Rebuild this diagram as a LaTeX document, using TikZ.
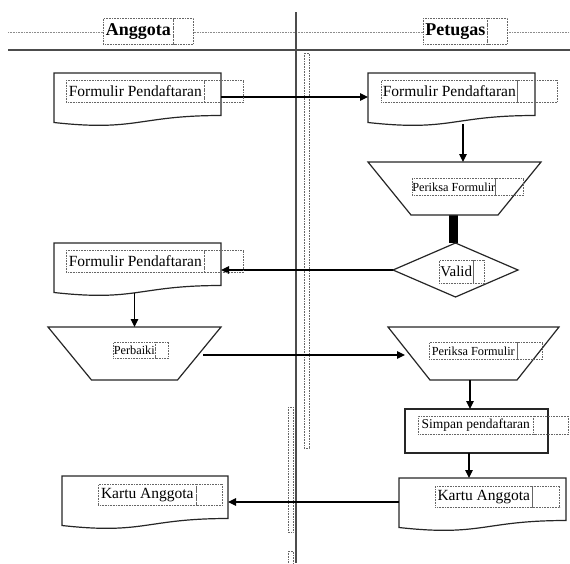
\documentclass[tikz,border=0pt]{standalone}
\usepackage{fontspec}
\setmainfont{Liberation Serif}
\usetikzlibrary{arrows.meta,calc}

\tikzset{
  shapeline/.style={draw=black!85, line width=1.2pt, fill=white},
  hold/.style={inner sep=0pt, outer sep=0pt, draw=none},
  lbl/.style={draw=black!60, densely dotted, line width=0.6pt, inner sep=0pt, text=black},
  frame/.style={draw=black!60, densely dotted, line width=0.6pt},
  headtext/.style={font=\fontsize{18}{20}\selectfont\bfseries, fill=white},
  bigtext/.style={font=\fontsize{15.5}{17}\selectfont},
  validtext/.style={font=\fontsize{15}{17}\selectfont},
  smalltext/.style={font=\fontsize{12.3}{14}\selectfont},
  midtext/.style={font=\fontsize{13.5}{15}\selectfont},
  flow/.style={draw=black, line width=1.2pt, -{Triangle[length=8pt,width=7.5pt]}},
  lane/.style={draw=black!70, line width=1.5pt},
}

% document symbol with a wavy lower edge, drawn over a placeholder node
\newcommand\docoutline[1]{%
  \draw[shapeline] (#1.north west) -- (#1.north east)
    -- ($(#1.north east)!0.802!(#1.south east)$)
    .. controls ($(#1.north)!0.802!(#1.south)$) and ($(#1.north)!1.1075!(#1.south)$)
    .. ($(#1.north west)!0.934!(#1.south west)$) -- cycle;}
% manual-operation trapezoid, wide side on top
\newcommand\trapoutline[2]{%
  \draw[shapeline] (#1.north west) -- (#1.north east)
    -- ([xshift=-#2pt]#1.south east) -- ([xshift=#2pt]#1.south west) -- cycle;}
% text in a dotted frame followed by an empty dotted frame
\newcommand\framedlabel[9]{%
  \node[lbl,#2,anchor=north west,minimum width={#5-#4},minimum height={#8-#7}] (#1) at (#4,#7) {#9};
  \draw[frame,#3] (#1.north east) rectangle ++({#6-#5},{#8-#7});}

\begin{document}
\begin{tikzpicture}[x=1pt,y=-1pt]
\useasboundingbox (0,0) rectangle (570,563);

% swimlane header and divider
\draw[frame, draw=black!45] (8,32) -- (570,32);
\draw[lane] (8,50) -- (570,50);
\draw[lane] (296,12) -- (296,563);
\framedlabel{hA}{headtext}{fill=white}{103}{173}{193}{18}{44}{Anggota}
\framedlabel{hP}{headtext}{fill=white}{423}{487}{507}{18}{44}{Petugas}

% placeholder nodes for the symbols
\node[hold, anchor=north west, minimum width=167, minimum height=53] (a1) at (54,73) {};
\node[hold, anchor=north west, minimum width=167, minimum height=53] (p1) at (368,73) {};
\node[hold, anchor=north west, minimum width=173, minimum height=53] (pf1) at (368,162) {};
\node[hold, anchor=north west, minimum width=125, minimum height=54] (valid) at (393,243) {};
\node[hold, anchor=north west, minimum width=167, minimum height=53] (a2) at (54,243) {};
\node[hold, anchor=north west, minimum width=173, minimum height=53] (pb) at (48,327) {};
\node[hold, anchor=north west, minimum width=171, minimum height=53] (pf2) at (388,327) {};
\node[hold, anchor=north west, minimum width=143, minimum height=44] (sp) at (405,409) {};
\node[hold, anchor=north west, minimum width=166, minimum height=53] (ak) at (62,476) {};
\node[hold, anchor=north west, minimum width=167, minimum height=53] (pk) at (399,478) {};

% thick link between the check and the decision
\draw[line width=9pt] ([xshift=-1.5pt]pf1.south) -- ([xshift=-1.5pt]pf1.south |- valid.north);

% symbol outlines
\docoutline{a1}
\docoutline{p1}
\trapoutline{pf1}{43}
\draw[shapeline] (valid.north) -- (valid.east) -- (valid.south) -- (valid.west) -- cycle;
\docoutline{a2}
\trapoutline{pb}{43.5}
\trapoutline{pf2}{42}
\draw[shapeline] (sp.north west) rectangle (sp.south east);
\docoutline{ak}
\docoutline{pk}

% dotted anchor strips beside the divider
\draw[frame] (304,53) rectangle (309,448);
\draw[frame] (288,407) rectangle (293,532);
\draw[frame] (288,551) rectangle (293,566);

% flow
\draw[flow] ([yshift=2.5pt]a1.east) -- ([yshift=2.5pt]p1.west);
\draw[flow] ([xshift=11.5pt,yshift=2pt]p1.south) -- ([xshift=8.5pt]pf1.north);
\draw[flow] (valid.west) -- (valid.west -| a2.east);
\draw[flow] ($(pb.north |- a2.south)+(0,-3)$) -- (pb.north);
\draw[flow] ([xshift=-18pt,yshift=-1.5pt]pb.east) -- ([xshift=17pt,yshift=-1.5pt]pf2.west);
\draw[flow] ([xshift=-3.5pt]pf2.south) -- ([xshift=-3.5pt]pf2.south |- sp.north);
\draw[flow] ([xshift=-7.5pt]sp.south) -- ([xshift=-7.5pt]sp.south |- pk.north);
\draw[flow] ([yshift=2.5pt]pk.west) -- ([yshift=2.5pt]pk.west -| ak.east);

% labels
\framedlabel{a1t}{bigtext}{}{66}{204}{243}{80}{102}{Formulir Pendaftaran}
\framedlabel{p1t}{bigtext}{}{381}{517}{557}{80}{102}{Formulir Pendaftaran}
\framedlabel{pf1t}{smalltext}{}{412}{495}{523}{178}{195}{Periksa Formulir}
\framedlabel{vt}{validtext}{}{439}{473}{484}{260}{283}{Valid}
\framedlabel{a2t}{bigtext}{}{66}{204}{243}{250}{272}{Formulir Pendaftaran}
\framedlabel{pbt}{smalltext}{}{113}{155}{168}{342}{358}{Perbaiki}
\framedlabel{pf2t}{smalltext}{}{429}{517}{542}{342}{359}{Periksa Formulir}
\framedlabel{spt}{midtext}{}{418}{533}{568}{416}{434}{Simpan pendaftaran}
\framedlabel{akt}{bigtext}{}{98}{196}{222}{484}{505}{Kartu Anggota}
\framedlabel{pkt}{bigtext}{}{435}{532}{559}{486}{507}{Kartu Anggota}
\end{tikzpicture}
\end{document}
